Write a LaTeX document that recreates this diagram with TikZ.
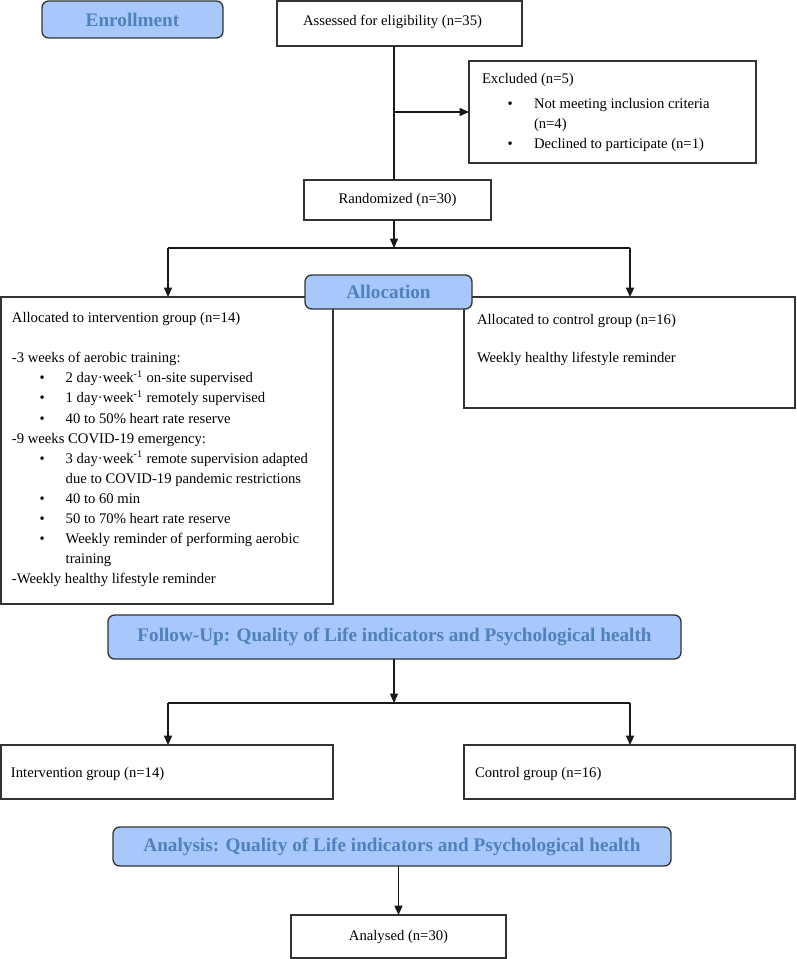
\documentclass[tikz,border=0pt]{standalone}
\usepackage{fontspec}
\setmainfont{Liberation Serif}
\usetikzlibrary{arrows.meta}
\definecolor{lblfill}{RGB}{168,199,250}
\definecolor{lbltext}{RGB}{79,129,189}
\definecolor{bd}{RGB}{50,50,50}
\begin{document}
\begin{tikzpicture}[x=0.75pt,y=-0.75pt,
 box/.style={draw=bd, line width=1pt, inner sep=0pt, outer sep=0pt, anchor=north west, font=\fontsize{11}{13}\selectfont},
 lbl/.style={box, fill=lblfill, rounded corners=5pt, text=lbltext, font=\fontsize{14.4}{16}\selectfont\bfseries},
 txt/.style={inner sep=0pt, outer sep=0pt, anchor=base west, font=\fontsize{11}{13}\selectfont},
 arr/.style={line width=1pt, draw=black!90, -{Triangle[length=7pt,width=6pt]}},
 ln/.style={line width=1pt, draw=black!90}]
\useasboundingbox (0,0) rectangle (796,959);

% Enrollment
\node[lbl, minimum width={181*0.75pt}, minimum height={37*0.75pt}] (enr) at (42,1) {Enrollment};
\node[box, minimum width={245*0.75pt}, minimum height={45*0.75pt}] (ass) at (277,1) {};
\node[txt] (asst) at (303,25.5) {Assessed for eligibility (n=35)};

% Excluded
\node[box, minimum width={287*0.75pt}, minimum height={102*0.75pt}] (exc) at (469,61) {};
\node[txt] (e1) at (482,83.5) {Excluded (n=5)};
\node[txt] (e2b) at (507.5,108.5) {\textbullet};
\node[txt] (e2) at (534,108.5) {Not meeting inclusion criteria};
\node[txt] (e3) at (534,128.5) {(n=4)};
\node[txt] (e4b) at (507.5,148.5) {\textbullet};
\node[txt] (e4) at (534,148.5) {Declined to participate (n=1)};

% Randomized
\node[box, minimum width={187*0.75pt}, minimum height={40*0.75pt}] (rnd) at (304,180) {Randomized (n=30)};

% Allocation boxes
\node[box, minimum width={332*0.75pt}, minimum height={307*0.75pt}] (int) at (1,297) {};
\node[box, minimum width={331*0.75pt}, minimum height={111*0.75pt}] (ctl) at (464,297) {};

\node[txt] (i1) at (12,322.5) {Allocated to intervention group (n=14)};
\node[txt] (i2) at (12,362.7) {-3 weeks of aerobic training:};
\node[txt] (i3b) at (39.5,382.8) {\textbullet};
\node[txt] (i3) at (65.7,382.8) {2 day·week\textsuperscript{-1} on-site supervised};
\node[txt] (i4b) at (39.5,402.9) {\textbullet};
\node[txt] (i4) at (65.7,402.9) {1 day·week\textsuperscript{-1} remotely supervised};
\node[txt] (i5b) at (39.5,423.0) {\textbullet};
\node[txt] (i5) at (65.7,423.0) {40 to 50\% heart rate reserve};
\node[txt] (i6) at (12,443.1) {-9 weeks COVID-19 emergency:};
\node[txt] (i7b) at (39.5,463.2) {\textbullet};
\node[txt] (i7) at (65.7,463.2) {3 day·week\textsuperscript{-1} remote supervision adapted};
\node[txt] (i8) at (65.7,483.3) {due to COVID-19 pandemic restrictions};
\node[txt] (i9b) at (39.5,503.4) {\textbullet};
\node[txt] (i9) at (65.7,503.4) {40 to 60 min};
\node[txt] (i10b) at (39.5,523.5) {\textbullet};
\node[txt] (i10) at (65.7,523.5) {50 to 70\% heart rate reserve};
\node[txt] (i11b) at (39.5,543.6) {\textbullet};
\node[txt] (i11) at (65.7,543.6) {Weekly reminder of performing aerobic};
\node[txt] (i12) at (65.7,563.7) {training};
\node[txt] (i13) at (12,583.8) {-Weekly healthy lifestyle reminder};

\node[txt] (c1) at (477,324) {Allocated to control group (n=16)};
\node[txt] (c2) at (477,362.5) {Weekly healthy lifestyle reminder};

\node[lbl, minimum width={167*0.75pt}, minimum height={34*0.75pt}] (alc) at (305,275) {Allocation};

% Follow-up
\node[lbl, minimum width={573*0.75pt}, minimum height={44*0.75pt}] (fu) at (108,615) {Follow-Up: Quality of Life indicators and Psychological health};
\node[box, minimum width={332*0.75pt}, minimum height={54*0.75pt}] (bi) at (1,745) {};
\node[box, minimum width={331*0.75pt}, minimum height={54*0.75pt}] (bc) at (464,745) {};
\node[txt] (bit) at (11,777) {Intervention group (n=14)};
\node[txt] (bct) at (475,777) {Control group (n=16)};

% Analysis
\node[lbl, minimum width={558*0.75pt}, minimum height={39*0.75pt}] (an) at (113,827) {Analysis: Quality of Life indicators and Psychological health};
\node[box, minimum width={215*0.75pt}, minimum height={43*0.75pt}] (ana) at (291,915) {Analysed (n=30)};

% connectors
\coordinate (s1) at (394,248);
\coordinate (sl) at (168,248);
\coordinate (sr) at (630,248);
\draw[ln] (ass.south -| s1) -- (rnd.north -| s1);
\draw[arr] (exc.west -| s1) -- (exc.west);
\draw[arr] (rnd.south -| s1) -- (s1);
\draw[ln] (sl) -- (sr);
\draw[arr] (sl) -- (sl |- int.north);
\draw[arr] (sr) -- (sr |- ctl.north);

\coordinate (f1) at (394,703);
\coordinate (fl) at (168,703);
\coordinate (fr) at (630,703);
\draw[arr] (fu.south -| f1) -- (f1);
\draw[ln] (fl) -- (fr);
\draw[arr] (fl) -- (fl |- bi.north);
\draw[arr] (fr) -- (fr |- bc.north);

\draw[arr] (an.south -| ana.north) -- (ana.north);
\end{tikzpicture}
\end{document}
